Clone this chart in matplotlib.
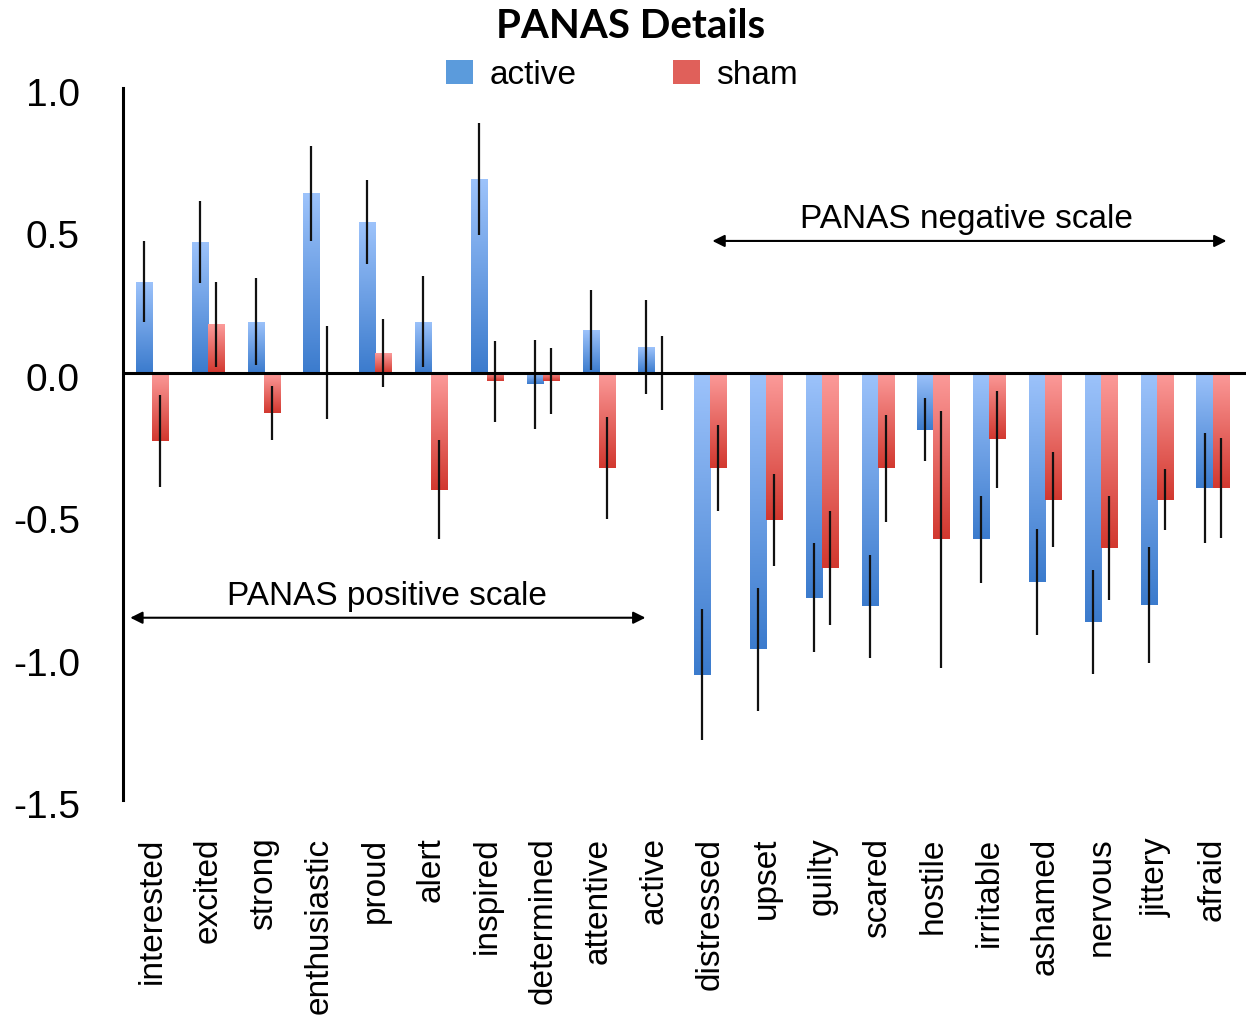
import matplotlib
matplotlib.use("Agg")
import matplotlib.pyplot as plt
import matplotlib.transforms as mtransforms
import numpy as np
from matplotlib.colors import LinearSegmentedColormap
from matplotlib.patches import Patch

# PANAS items, positive scale first then negative scale
items = ["interested", "excited", "strong", "enthusiastic", "proud", "alert",
         "inspired", "determined", "attentive", "active",
         "distressed", "upset", "guilty", "scared", "hostile", "irritable",
         "ashamed", "nervous", "jittery", "afraid"]

active_mean = [0.32, 0.46, 0.18, 0.63, 0.53, 0.18, 0.68, -0.04, 0.15, 0.09,
               -1.06, -0.97, -0.79, -0.82, -0.20, -0.585, -0.735, -0.875, -0.815, -0.405]
active_err = [0.142, 0.143, 0.154, 0.168, 0.148, 0.16, 0.197, 0.156, 0.139, 0.165,
              0.229, 0.216, 0.192, 0.18, 0.11, 0.153, 0.186, 0.182, 0.205, 0.194]

sham_mean = [-0.24, 0.17, -0.14, 0.0, 0.07, -0.41, -0.03, -0.03, -0.335, 0.0,
             -0.335, -0.516, -0.686, -0.335, -0.585, -0.234, -0.445, -0.615, -0.445, -0.405]
sham_err = [0.161, 0.149, 0.095, 0.163, 0.12, 0.175, 0.143, 0.116, 0.18, 0.13,
            0.151, 0.161, 0.199, 0.188, 0.451, 0.17, 0.168, 0.182, 0.107, 0.175]

plt.rcParams['font.family'] = ['Liberation Sans', 'DejaVu Sans']

fig = plt.figure(figsize=(12.46, 10.15), dpi=100)
ax = fig.add_axes([123/1246, 1-800/1015, 1-123/1246, 712/1015])

x = np.arange(len(items))
w = 0.287

blue_cm = LinearSegmentedColormap.from_list("b", ["#3b7bcd", "#9dc3fb"])
red_cm = LinearSegmentedColormap.from_list("r", ["#d2382f", "#fc9b9a"])
grad = np.linspace(0, 1, 256).reshape(-1, 1)

def grad_bars(bars, cmap):
    for b in bars:
        x0, y0 = b.get_x(), b.get_y()
        bw, bh = b.get_width(), b.get_height()
        lo, hi = min(y0, y0 + bh), max(y0, y0 + bh)
        if hi - lo < 1e-6:
            continue
        im = ax.imshow(grad, cmap=cmap, origin='lower', aspect='auto',
                       extent=[x0, x0 + bw, lo, hi], zorder=2)
        im.set_clip_path(b)

b1 = ax.bar(x - w, active_mean, width=w, align='edge', facecolor='none',
            edgecolor='none', zorder=2)
b2 = ax.bar(x, sham_mean, width=w, align='edge', facecolor='none',
            edgecolor='none', zorder=2)
grad_bars(b1, blue_cm)
grad_bars(b2, red_cm)

ax.errorbar(x - w/2, active_mean, yerr=active_err, fmt='none', ecolor='#111111',
            elinewidth=1.6, capsize=0, zorder=4)
ax.errorbar(x + w/2, sham_mean, yerr=sham_err, fmt='none', ecolor='#111111',
            elinewidth=1.6, capsize=0, zorder=4)

ax.axhline(0, color='black', lw=2.2, zorder=5)

ax.set_xlim(-0.52, 19.6)
ax.set_ylim(-1.5, 1.0)

for s in ['top', 'right', 'bottom']:
    ax.spines[s].set_visible(False)
ax.spines['left'].set_linewidth(2.2)

ax.set_yticks([1.0, 0.5, 0.0, -0.5, -1.0, -1.5])
ax.set_yticklabels(["1.0", "0.5", "0.0", "-0.5", "-1.0", "-1.5"], fontsize=28)
ax.tick_params(axis='y', length=0, pad=31)
shift = mtransforms.ScaledTranslation(0, -4/100, fig.dpi_scale_trans)
for lbl in ax.get_yticklabels():
    lbl.set_transform(lbl.get_transform() + shift)
ax.set_xticks(x)
ax.set_xticklabels(items, rotation=90, va='top', ha='center', fontsize=24)
ax.tick_params(axis='x', length=0, pad=27)

# scale annotations
ax.annotate("", xy=(10.04, 0.463), xytext=(19.25, 0.463),
            arrowprops=dict(arrowstyle='<|-|>', color='black', lw=1.5,
                            mutation_scale=18, shrinkA=0, shrinkB=0))
ax.text(14.6, 0.538, "PANAS negative scale", ha='center', va='center', fontsize=24)
ax.annotate("", xy=(-0.39, -0.86), xytext=(8.84, -0.86),
            arrowprops=dict(arrowstyle='<|-|>', color='black', lw=1.5,
                            mutation_scale=18, shrinkA=0, shrinkB=0))
ax.text(4.2, -0.787, "PANAS positive scale", ha='center', va='center', fontsize=24)

fig.text(631/1246, 1-27/1015, "PANAS Details", ha='center', va='center',
         fontsize=29, fontweight='bold', family=['Lato', 'DejaVu Sans'])

handles = [Patch(facecolor='#5b9bdc', edgecolor='none', label='active'),
           Patch(facecolor='#e0605a', edgecolor='none', label='sham')]
fig.legend(handles=handles, loc='center', bbox_to_anchor=(622/1246, 1-75/1015),
           ncol=2, frameon=False, fontsize=24, handlelength=0.8, handleheight=0.75,
           handletextpad=0.5, columnspacing=2.9)

fig.savefig("out.png", dpi=100)
